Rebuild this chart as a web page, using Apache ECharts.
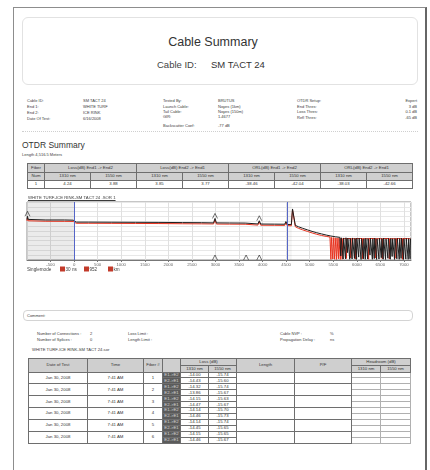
<!DOCTYPE html>
<html>
<head>
<meta charset="utf-8">
<title>Cable Summary</title>
<script src="https://cdn.jsdelivr.net/npm/echarts@6.0.0/dist/echarts.min.js"></script>
<style>
  html, body { margin: 0; padding: 0; background: #fff; }
  body { width: 430px; height: 470px; overflow: hidden; position: relative;
         font-family: "Liberation Sans", Arial, sans-serif; color: #3b3b3b; }
  .t { position: absolute; white-space: nowrap; line-height: 1; }
  #page { position: absolute; left: 13px; top: 7px; width: 414px; height: 490px;
          border: 1px solid #8d8d8d; border-right: 2px solid #666; box-sizing: border-box; }
  #head { position: absolute; left: 22px; top: 17px; width: 396px; height: 68px;
          border: 1px solid #e2e2e2; border-radius: 6px; box-sizing: border-box; }
  #dots { position: absolute; left: 22px; top: 131px; width: 396px; border-top: 1px dotted #cfcfcf; }
  #comment { position: absolute; left: 23px; top: 310px; width: 390px; height: 11px;
             border: 1px solid #d4d4d4; border-radius: 4px; box-sizing: border-box; }
  table { position: absolute; border-collapse: collapse; table-layout: fixed; font-size: 4.3px; color: #333; }
  td { border: 1px solid #6e6e6e; padding: 0; text-align: center; overflow: hidden; white-space: nowrap; line-height: 1; }
  .hd td { background: #cfcfcf; }
  td.tag { background: #5b5b5b; color: #d8d8d8; }
  td.hr { border-color: #b0b0b0; }
  #chart { position: absolute; left: 0; top: 190px; width: 430px; height: 95px; }
</style>
</head>
<body>
<div id="page"></div>
<div id="head"></div>
<div id="dots"></div>
<div id="comment"></div>
<div id="chart"></div>
<script>
// ---- report header ----
var infoLeft = [['Cable ID:', 'SM TACT 24'], ['End 1:', 'WHITE TURF'], ['End 2:', 'ICE RINK'], ['Date Of Test:', '6/16/2008']];
var infoMid = [['Tested By:', 'BRUTUS'], ['Launch Cable:', 'Noyes (1km)'], ['Tail Cable:', 'Noyes (150m)'], ['GIR:', '1.4677'], ['Backscatter Coef:', '-77 dB']];
var infoRight = [['OTDR Setup:', 'Expert'], ['End Thres:', '3 dB'], ['Loss Thres:', '0.1 dB'], ['Refl Thres:', '-65 dB']];

// ---- OTDR summary table ----
var summaryGroups = ['Loss(dB) End1 -> End2', 'Loss(dB) End2 -> End1', 'ORL(dB) End1 -> End2', 'ORL(dB) End2 -> End1'];
var wavelengths = ['1310 nm', '1550 nm'];
var summaryFiber = ['1'];
var summaryValues = [['4.24', '3.88', '3.85', '3.77', '-38.46', '-42.04', '-38.03', '-42.66']];

// ---- OTDR trace (distance m, relative dB) ----
var traceTitle = 'WHITE TURF-ICE RINK-SM TACT 24 .SOR 1';
var blackTrace = [
  [-1000, 20.9], [-990, 22.6], [-975, 21.0], [-940, 20.8], [-600, 20.7], [-200, 20.7], [-20, 20.6],
  [15, 20.2], [45, 19.6], [300, 19.6], [800, 19.55], [1300, 19.5], [1800, 19.45], [2300, 19.35],
  [2700, 19.3], [2960, 19.2], [2990, 21.5], [3020, 19.2], [3300, 19.15], [3630, 19.1], [3660, 18.7],
  [3900, 18.65], [3930, 20.3], [3960, 18.6], [4250, 18.55], [4470, 18.5], [4495, 19.9], [4525, 18.4],
  [4610, 18.3], [4635, 26.4], [4665, 26.3], [4695, 17.9], [4760, 17.2], [4850, 16.4], [4950, 15.6],
  [5050, 14.8], [5150, 14.1], [5250, 13.5], [5350, 12.9], [5450, 12.4], [5550, 12.0], [5640, 11.7],
  [5660, 11.6], [5660, 2.1], [5670, 11.5], [5710, 11.5], [5710, 0.5], [5720, 11.4],
  [5760, 11.4], [5760, 0.6], [5770, 11.5], [5800, 11.3], [5800, 3.8], [5810, 11.3],
  [5850, 11.4], [5850, 0.4], [5860, 11.2], [5900, 11.2], [5900, 0.5], [5910, 11.4],
  [5950, 11.3], [5950, 0.8], [5960, 11.2], [5990, 11.2], [5990, 0.3], [6000, 11.3],
  [6040, 11.1], [6040, 1.5], [6050, 11.3], [6090, 11.2], [6090, 0.3], [6100, 11.1],
  [6140, 11.3], [6140, 0.6], [6150, 11.0], [6180, 11.1], [6180, 0.4], [6190, 11.2],
  [6230, 11.2], [6230, 0.5], [6240, 11.1], [6280, 11.0], [6280, 2.6], [6290, 11.2],
  [6330, 11.2], [6330, 0.4], [6340, 11.0], [6370, 11.1], [6370, 0.7], [6380, 11.3],
  [6420, 11.3], [6420, 0.3], [6430, 11.0], [6470, 11.0], [6470, 0.5], [6480, 11.2],
  [6520, 11.2], [6520, 1.2], [6530, 11.1], [6560, 11.1], [6560, 0.4], [6570, 11.3],
  [6610, 11.3], [6610, 0.3], [6620, 11.0], [6660, 11.0], [6660, 0.9], [6670, 11.2],
  [6710, 11.2], [6710, 0.4], [6720, 11.1], [6750, 11.1], [6750, 1.8], [6760, 11.0],
  [6800, 11.3], [6800, 0.3], [6810, 11.1], [6850, 11.0], [6850, 0.6], [6860, 11.2],
  [6900, 11.2], [6900, 0.4], [6910, 11.1], [6940, 11.1], [6940, 0.8], [6950, 11.3],
  [6990, 11.3], [6990, 0.3], [7000, 11.0], [7040, 11.0], [7040, 0.5], [7050, 11.2],
  [7090, 11.2], [7090, 0.4], [7100, 11.1], [7130, 11.2], [7130, 0.6], [7140, 11.1]
];
var redTrace = [
  [-1000, 20.2], [-990, 21.9], [-975, 20.3], [-940, 20.1], [-600, 20.05], [-200, 20.0], [-20, 19.95],
  [15, 19.6], [45, 19.0], [300, 19.0], [800, 18.95], [1300, 18.9], [1800, 18.85], [2300, 18.75],
  [2700, 18.7], [2960, 18.65], [2990, 20.8], [3020, 18.6], [3300, 18.55], [3630, 18.5], [3660, 18.1],
  [3900, 18.05], [3930, 19.6], [3960, 18.0], [4250, 17.95], [4470, 17.9], [4495, 19.2], [4525, 17.8],
  [4610, 17.7], [4635, 26.0], [4665, 25.8], [4695, 17.2], [4760, 16.4], [4850, 15.6], [4950, 14.8],
  [5050, 14.0], [5150, 13.3], [5250, 12.7], [5350, 12.2], [5430, 11.9],
  [5450, 11.8], [5450, 0.3], [5460, 11.7], [5490, 11.7], [5490, 0.5], [5500, 11.6],
  [5530, 11.6], [5530, 0.4], [5540, 11.5], [5570, 11.5], [5570, 0.3], [5580, 11.4],
  [5610, 11.4], [5610, 0.6], [5620, 11.3], [5650, 11.3], [5650, 0.3], [5660, 11.2],
  [5690, 11.2], [5690, 0.4], [5700, 11.1], [5780, 11.0], [5780, 0.8], [5790, 11.1],
  [5870, 11.1], [5870, 1.1], [5880, 11.0], [5970, 11.0], [5970, 0.5], [5980, 11.1],
  [6120, 11.1], [6120, 0.7], [6130, 11.0], [6250, 11.0], [6250, 0.4], [6260, 11.1],
  [6400, 11.1], [6400, 1.0], [6410, 11.0], [6540, 11.0], [6540, 0.6], [6550, 11.1],
  [6690, 11.1], [6690, 0.5], [6700, 11.0], [6830, 11.0], [6830, 0.9], [6840, 11.1],
  [6970, 11.0], [6970, 0.4], [6980, 11.1], [7140, 11.0]
];
var eventDist = [-990, 2990, 3930, 2990, 3650, 3930];
var eventLevel = [22.6, 21.5, 20.3, 0, 0, 0];
var cableEnds = [0, 4516.5];
var legendItems = ['30 ns', '952', 'km'];

// ---- fiber results table ----
var testDates = ['Jan 30, 2008', 'Jan 30, 2008', 'Jan 30, 2008', 'Jan 30, 2008', 'Jan 30, 2008', 'Jan 30, 2008'];
var testTimes = ['7:41 AM', '7:41 AM', '7:41 AM', '7:41 AM', '7:41 AM', '7:41 AM'];
var fiberNums = ['1', '2', '3', '4', '5', '6'];
var directions = ['E1->E2', 'E2->E1'];
var loss1310 = [['-14.00', '-14.43'], ['-14.32', '-13.86'], ['-14.15', '-14.47'], ['-14.14', '-14.46'], ['-14.14', '-14.45'], ['-14.15', '-14.46']];
var loss1550 = [['-15.74', '-15.60'], ['-15.74', '-15.67'], ['-15.63', '-15.67'], ['-15.70', '-15.73'], ['-15.74', '-15.65'], ['-15.65', '-15.67']];

function put(txt, x, y, size, opt) {
  opt = opt || {};
  var d = document.createElement('div');
  d.className = 't';
  d.textContent = txt;
  d.style.fontSize = size + 'px';
  d.style.top = (y - size / 2) + 'px';
  if (opt.right != null) d.style.right = (430 - opt.right) + 'px';
  else d.style.left = x + 'px';
  if (opt.center) d.style.transform = 'translateX(-50%)';
  if (opt.color) d.style.color = opt.color;
  if (opt.deco) d.style.textDecoration = opt.deco;
  document.body.appendChild(d);
  return d;
}

put('Cable Summary', 213, 42, 12.5, { center: true, color: '#333' });
put('Cable ID:', 157, 65, 9.5, { color: '#444' });
put('SM TACT 24', 211, 65, 9.5, { color: '#333' });

var rowsL = [101, 106.5, 112.5, 118.5];
var rowsM = [101, 106.5, 112, 117, 125.5];
var rowsR = [101, 106.5, 112, 117.5];
infoLeft.forEach(function (r, i) { put(r[0], 27, rowsL[i], 4); put(r[1], 83, rowsL[i], 4); });
infoMid.forEach(function (r, i) { put(r[0], 163, rowsM[i], 4); put(r[1], 218, rowsM[i], 4); });
infoRight.forEach(function (r, i) { put(r[0], 297, rowsR[i], 4); put(r[1], 0, rowsR[i], 4, { right: 417 }); });

put('OTDR Summary', 22, 145, 8.5, { color: '#333' });
put('Length 4,516.5 Meters', 22, 155, 4);

// summary table
var h = '<colgroup><col style="width:17px">';
for (var c = 0; c < 8; c++) h += '<col style="width:46px">';
h += '</colgroup><tr class="hd" style="height:8.5px"><td>Fiber</td>';
summaryGroups.forEach(function (g) { h += '<td colspan="2">' + g + '</td>'; });
h += '</tr><tr class="hd" style="height:8.5px"><td>Num</td>';
summaryGroups.forEach(function () { wavelengths.forEach(function (w) { h += '<td>' + w + '</td>'; }); });
h += '</tr>';
summaryValues.forEach(function (row, i) {
  h += '<tr style="height:8px"><td>' + summaryFiber[i] + '</td>';
  row.forEach(function (v) { h += '<td>' + v + '</td>'; });
  h += '</tr>';
});
var st = document.createElement('table');
st.style.left = '27px'; st.style.top = '163px'; st.style.width = '385px';
st.innerHTML = h;
document.body.appendChild(st);

put(traceTitle, 28, 198, 4.3, { deco: 'underline' });

// comment + stats
put('Comment:', 27, 315.5, 4);
put('Number of Connections :', 37, 334, 4); put('2', 90, 334, 4);
put('Number of Splices :', 37, 339.5, 4); put('0', 90, 339.5, 4);
put('Loss Limit :', 128, 334, 4);
put('Length Limit :', 128, 339.5, 4);
put('Cable NVP :', 280, 334, 4); put('%', 330, 334, 4);
put('Propagation Delay :', 280, 339.5, 4); put('ns', 330, 339.5, 4);
put('WHITE TURF-ICE RINK-SM TACT 24.sor', 32, 350, 4.2);

// fiber results table
var colW = [59, 56, 19, 18, 28, 28, 58, 57, 29, 30];
var b = '<colgroup>';
colW.forEach(function (w) { b += '<col style="width:' + w + 'px">'; });
b += '</colgroup>';
b += '<tr class="hd" style="height:7px"><td rowspan="2">Date of Test</td><td rowspan="2">Time</td><td rowspan="2">Fiber #</td>' +
     '<td rowspan="2"></td><td colspan="2">Loss (dB)</td><td rowspan="2">Length</td><td rowspan="2">P/F</td>' +
     '<td colspan="2">Headroom (dB)</td></tr>';
b += '<tr class="hd" style="height:6.5px">';
wavelengths.concat(wavelengths).forEach(function (w) { b += '<td>' + w + '</td>'; });
b += '</tr>';
fiberNums.forEach(function (f, i) {
  directions.forEach(function (d, k) {
    b += '<tr style="height:5.95px">';
    if (k === 0) {
      b += '<td rowspan="2">' + testDates[i] + '</td><td rowspan="2">' + testTimes[i] + '</td><td rowspan="2">' + f + '</td>';
    }
    b += '<td class="tag">' + d + '</td><td>' + loss1310[i][k] + '</td><td>' + loss1550[i][k] + '</td>';
    if (k === 0) b += '<td rowspan="2"></td><td rowspan="2"></td>';
    b += '<td class="hr"></td><td class="hr"></td></tr>';
  });
});
var bt = document.createElement('table');
bt.style.left = '28px'; bt.style.top = '358px'; bt.style.width = '382px';
bt.innerHTML = b;
document.body.appendChild(bt);

// ---- OTDR trace chart ----
var chart = echarts.init(document.getElementById('chart'));
var legendGraphics = [{
  type: 'text', left: 27, top: 77, style: { text: 'Singlemode', fontSize: 4.6, fill: '#444', fontFamily: 'Liberation Sans' }
}];
var legendX = [60, 84, 108];
legendItems.forEach(function (name, i) {
  legendGraphics.push({ type: 'rect', shape: { x: legendX[i], y: 76.5, width: 5, height: 5 }, style: { fill: '#c23a2a' } });
  legendGraphics.push({ type: 'text', left: legendX[i] + 5.5, top: 77, style: { text: name, fontSize: 4.6, fill: '#444', fontFamily: 'Liberation Sans' } });
});

chart.setOption({
  animation: false,
  grid: { left: 27, top: 12, width: 384, height: 58, show: true, borderColor: '#8c8c8c', borderWidth: 1 },
  xAxis: {
    type: 'value', min: -1000, max: 7150, interval: 500,
    axisLine: { onZero: false, lineStyle: { color: '#777' } },
    axisTick: { show: true, length: 2, lineStyle: { color: '#777' } },
    axisLabel: {
      fontSize: 4.3, color: '#666', margin: 2.5, showMinLabel: false, fontFamily: 'Liberation Sans',
      formatter: function (v) { return String(v); }
    },
    splitLine: { lineStyle: { color: '#e0e0e0', width: 1 } }
  },
  yAxis: {
    type: 'value', min: 0, max: 30, interval: 2.5,
    axisLine: { show: false }, axisTick: { show: false }, axisLabel: { show: false },
    splitLine: { lineStyle: { color: '#e8e8e8', width: 1 } }
  },
  graphic: legendGraphics,
  series: [
    {
      name: '1310 nm', type: 'line', data: redTrace, showSymbol: false,
      lineStyle: { color: '#e8321e', width: 1 }, itemStyle: { color: '#e8321e' },
      markArea: {
        silent: true, itemStyle: { color: 'rgba(0,0,0,0.08)' },
        data: [[{ xAxis: -1000 }, { xAxis: cableEnds[0] }],
               [{ xAxis: cableEnds[1], itemStyle: { color: 'rgba(0,0,0,0.04)' } }, { xAxis: 4620 }]]
      },
      markLine: {
        silent: true, symbol: 'none', label: { show: false },
        lineStyle: { color: '#5566c8', width: 1, type: 'solid' },
        data: cableEnds.map(function (d) { return { xAxis: d }; })
      }
    },
    {
      name: '1550 nm', type: 'line', data: blackTrace, showSymbol: false,
      lineStyle: { color: '#1e1e1e', width: 1 }, itemStyle: { color: '#1e1e1e' }
    },
    {
      type: 'scatter', data: eventDist.map(function (d, i) { return [d, eventLevel[i]]; }),
      symbol: 'path://M0,10L5,0L10,10', symbolSize: [5, 5], symbolOffset: [0, -2.5],
      itemStyle: { color: 'none', borderColor: '#222', borderWidth: 0.8 }
    }
  ]
});
</script>
</body>
</html>
